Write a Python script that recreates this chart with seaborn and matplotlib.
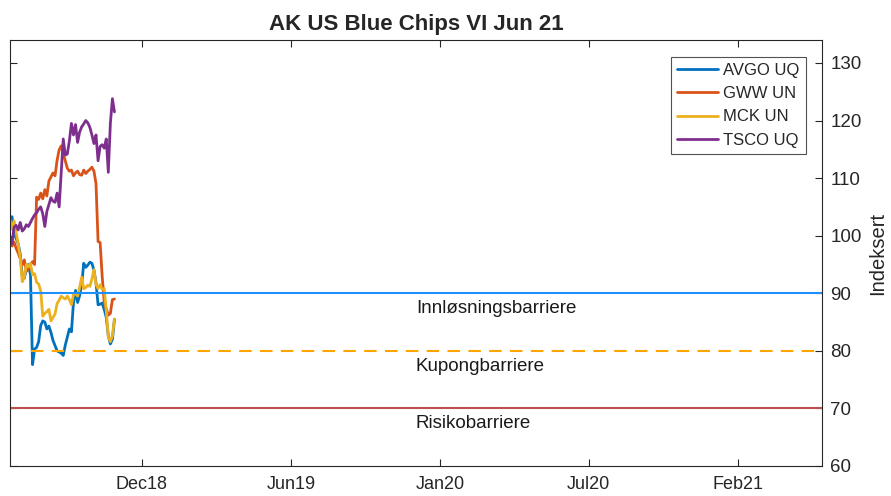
import pandas as pd
import numpy as np
import matplotlib
matplotlib.use('Agg')
import matplotlib.pyplot as plt
import seaborn as sns

# verdier lest fra figuren (indeksert, start = 100)
datoer = pd.date_range('2018-06-07', periods=52, freq='66h')

avgo = [101.0, 103.3, 100.5, 99.5, 98.6, 96.8, 93.0, 92.6, 94.2, 95.0,
        93.2, 77.6, 80.3, 80.6, 81.6, 84.4, 85.2, 85.0, 83.8, 84.3,
        83.2, 81.8, 80.9, 80.0, 79.8, 79.6, 79.2, 81.0, 82.4, 83.8,
        83.3, 88.4, 90.5, 88.4, 89.6, 91.5, 95.2, 94.5, 94.9, 95.4,
        95.2, 94.0, 91.8, 88.0, 88.1, 88.3, 87.2, 85.8, 82.6, 81.2,
        82.0, 85.5]
gww = [99.3, 98.2, 98.9, 97.8, 97.0, 96.0, 94.9, 95.8, 93.8, 94.3,
       95.0, 95.5, 95.0, 106.7, 106.3, 107.4, 106.4, 108.0, 106.9, 109.5,
       110.2, 110.9, 110.4, 113.1, 114.9, 115.6, 114.2, 113.0, 111.7, 111.2,
       111.4, 110.4, 110.9, 111.2, 110.6, 110.5, 111.4, 110.8, 111.2, 111.5,
       111.9, 111.2, 109.0, 99.0, 98.8, 93.0, 88.4, 87.3, 86.2, 86.5,
       88.9, 89.0]
mck = [102.8, 101.2, 102.6, 100.5, 98.6, 96.2, 92.0, 92.8, 95.0, 94.6,
       95.2, 93.2, 93.4, 91.9, 91.6, 90.4, 86.0, 86.5, 86.8, 87.2,
       85.2, 85.8, 86.4, 88.2, 88.8, 89.5, 89.2, 89.0, 89.5, 88.9,
       88.0, 89.8, 90.0, 89.5, 91.0, 92.8, 90.8, 91.0, 91.4, 91.2,
       92.5, 94.1, 91.5, 90.8, 91.5, 90.7, 90.8, 87.0, 82.4, 81.6,
       82.6, 85.5]
tsco = [99.8, 98.6, 101.5, 101.8, 101.0, 102.3, 100.8, 101.2, 101.9, 101.6,
        102.3, 103.0, 103.6, 104.0, 104.6, 105.0, 103.8, 101.6, 104.2, 105.4,
        106.6, 106.0, 105.8, 107.4, 105.0, 110.9, 116.8, 114.0, 114.2, 116.5,
        119.5, 117.5, 119.3, 116.2, 118.0, 118.9, 119.4, 120.0, 119.6, 118.8,
        117.5, 116.0, 117.5, 113.0, 115.5, 115.8, 115.2, 116.8, 111.0, 119.5,
        123.8, 121.5]

navn = ['AVGO UQ', 'GWW UN', 'MCK UN', 'TSCO UQ']
farger = ['#0072BD', '#D95319', '#EDB120', '#7E2F8E']

barrierer = [90, 80, 70]
barriere_navn = ['Innløsningsbarriere', 'Kupongbarriere', 'Risikobarriere']
barriere_farger = ['#1E90FF', '#FFA500', '#C0504D']
barriere_stil = ['-', '--', '-']

tick_datoer = pd.to_datetime(['2018-12-01', '2019-06-19', '2020-01-05', '2020-07-23', '2021-02-08'])
tick_tekst = ['Dec18', 'Jun19', 'Jan20', 'Jul20', 'Feb21']

df = pd.DataFrame({'dato': datoer, navn[0]: avgo, navn[1]: gww, navn[2]: mck, navn[3]: tsco})
df_lang = df.melt(id_vars='dato', var_name='aksje', value_name='verdi')

sns.set_style('white')
plt.rcParams['font.family'] = ['Liberation Sans', 'DejaVu Sans']

fig = plt.figure(figsize=(8.91, 4.96), dpi=100)
ax = fig.add_axes([0.0112, 0.0605, 0.9113, 0.859])

sns.lineplot(data=df_lang, x='dato', y='verdi', hue='aksje', palette=farger,
             linewidth=2, ax=ax)

x0, x1 = pd.Timestamp('2018-06-07'), pd.Timestamp('2021-06-01')
tekst_x = pd.Timestamp('2019-12-04')
for b, t, c, s in zip(barrierer, barriere_navn, barriere_farger, barriere_stil):
    if s == '--':
        ax.axhline(b, color=c, linestyle='--', linewidth=1.5, dashes=(6, 4))
    else:
        ax.axhline(b, color=c, linestyle='-', linewidth=1.5)
    ax.text(tekst_x, b - 1.2, t, ha='left', va='top', fontsize=13.5, color='#1a1a1a')

ax.set_xlim(x0, x1)
ax.set_ylim(60, 134)
ax.set_xticks(tick_datoer)
ax.set_xticklabels(tick_tekst)
ax.set_yticks(range(60, 131, 10))

ax.yaxis.tick_right()
ax.yaxis.set_label_position('right')
ax.tick_params(axis='both', direction='in', length=5, width=0.8, color='#262626',
               labelsize=13.5, labelcolor='#262626', top=True, bottom=True, left=True, right=True,
               labelleft=False, labelright=True)
ax.tick_params(axis='x', pad=7, labelsize=13)
ax.tick_params(axis='y', pad=6)
for sp in ax.spines.values():
    sp.set_visible(True)
    sp.set_color('#262626')
    sp.set_linewidth(0.8)

ax.set_xlabel('')
ax.set_ylabel('Indeksert', fontsize=14.5, color='#262626', labelpad=5)
ax.set_title('AK US Blue Chips VI Jun 21', fontsize=16, fontweight='bold', pad=7)

leg = ax.legend(loc='upper right', bbox_to_anchor=(0.980, 0.960), borderaxespad=0,
                frameon=True, fancybox=False,
                fontsize=12, handlelength=2.45, borderpad=0.35, labelspacing=0.5,
                handletextpad=0.35, title=None)
leg.get_frame().set_edgecolor('#262626')
leg.get_frame().set_linewidth(0.8)
for ln in leg.get_lines():
    ln.set_linewidth(2)

fig.savefig('out.png', dpi=100)
